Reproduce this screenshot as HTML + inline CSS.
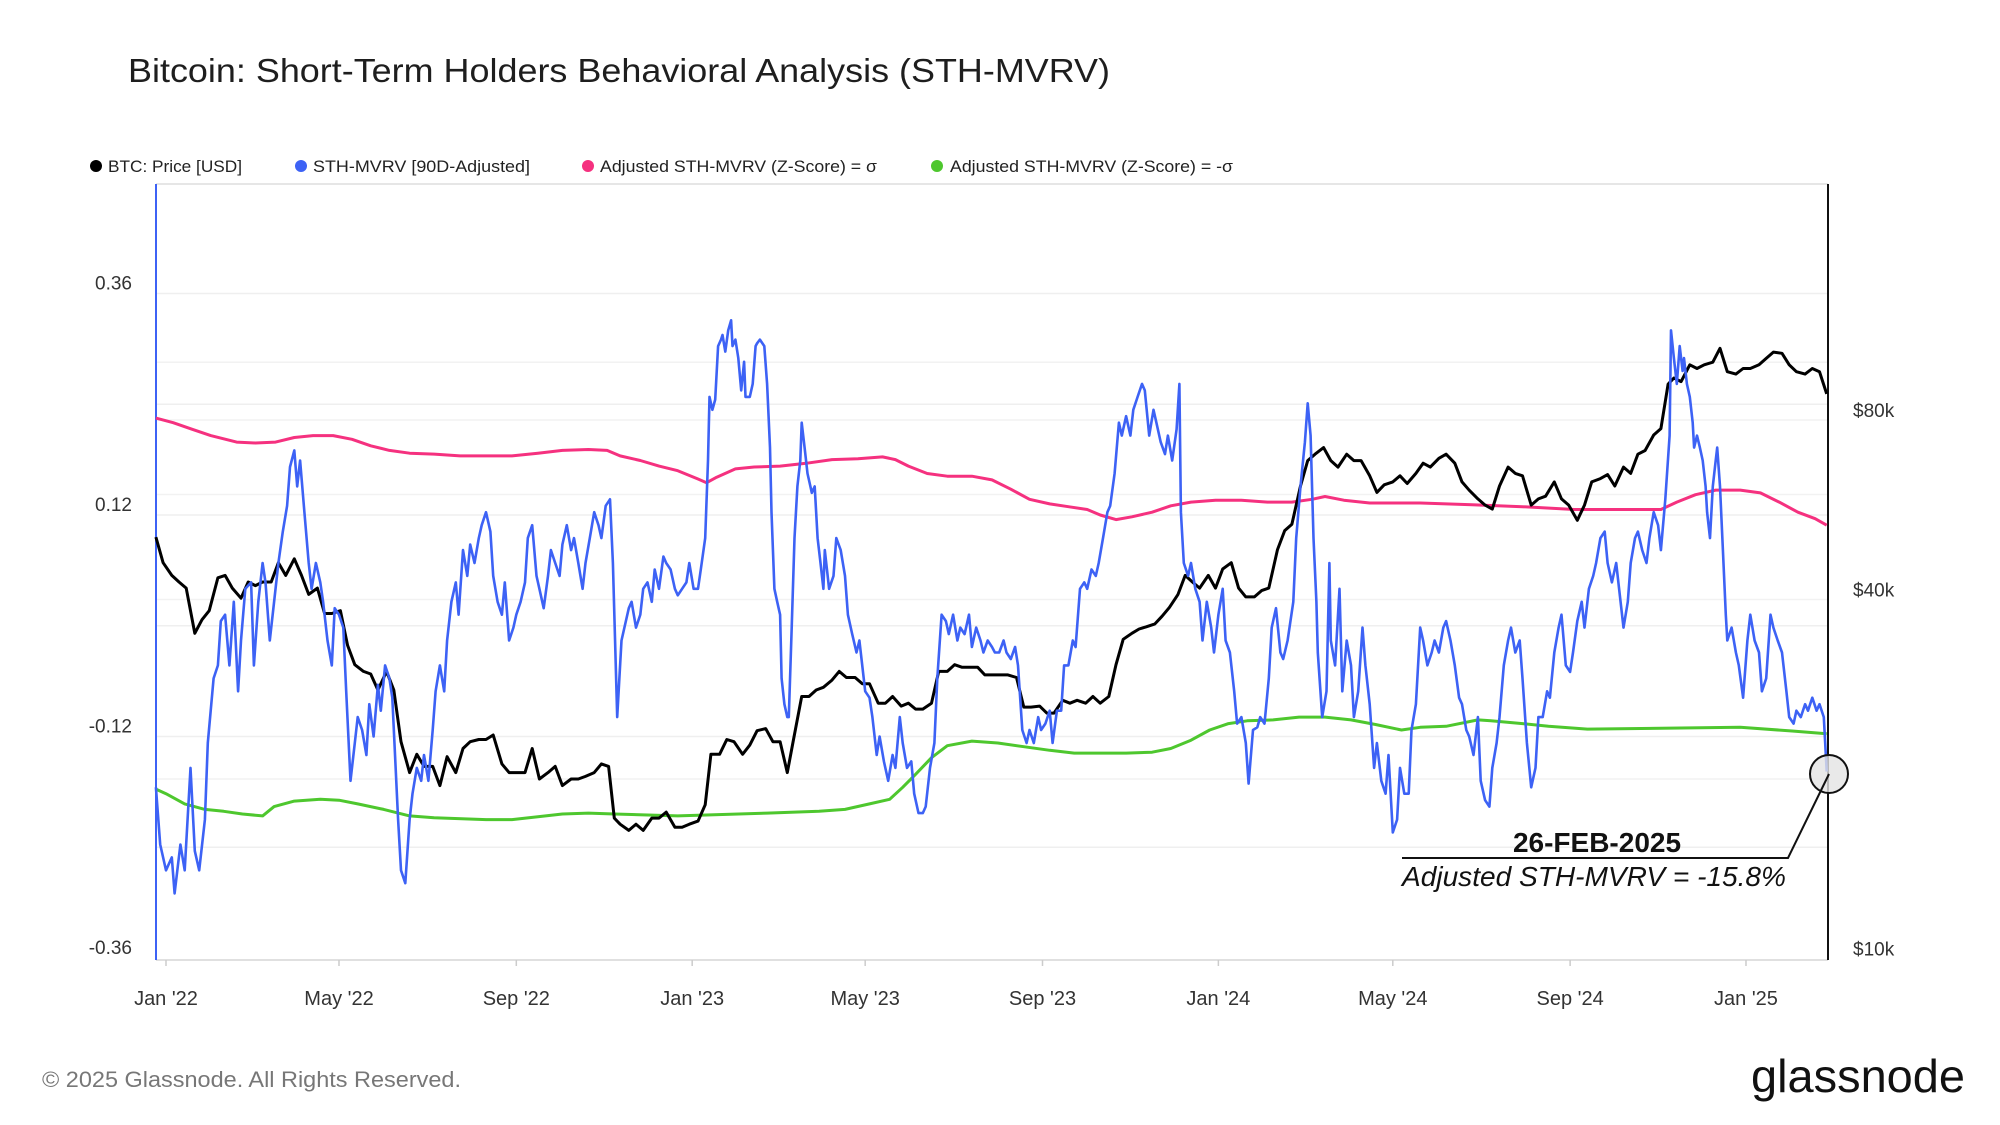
<!DOCTYPE html>
<html>
<head>
<meta charset="utf-8">
<style>
html,body{margin:0;padding:0;background:#fff;}
svg{display:block;font-family:"Liberation Sans",Arial,sans-serif;}
</style>
</head>
<body>
<svg id="chart" width="2000" height="1125" viewBox="0 0 2000 1125" xmlns="http://www.w3.org/2000/svg">
  <rect x="0" y="0" width="2000" height="1125" fill="#ffffff"/>
  <text x="128" y="82" font-size="33" fill="#1e1e1e" textLength="982" lengthAdjust="spacingAndGlyphs">Bitcoin: Short-Term Holders Behavioral Analysis (STH-MVRV)</text>

  <g font-size="17" fill="#222">
    <g>
      <circle cx="96" cy="166" r="6" fill="#000"/>
      <text x="108" y="172" textLength="134" lengthAdjust="spacingAndGlyphs">BTC: Price [USD]</text>
    </g>
    <g>
      <circle cx="301" cy="166" r="6" fill="#3d62f5"/>
      <text x="313" y="172" textLength="217" lengthAdjust="spacingAndGlyphs">STH-MVRV [90D-Adjusted]</text>
    </g>
    <g>
      <circle cx="588" cy="166" r="6" fill="#f5317f"/>
      <text x="600" y="172" textLength="277" lengthAdjust="spacingAndGlyphs">Adjusted STH-MVRV (Z-Score) = σ</text>
    </g>
    <g>
      <circle cx="937" cy="166" r="6" fill="#4ec72e"/>
      <text x="950" y="172" textLength="283" lengthAdjust="spacingAndGlyphs">Adjusted STH-MVRV (Z-Score) = -σ</text>
    </g>
  </g>

  <g id="grid"></g>
  <g id="axes"></g>
  <g id="series"></g>

  <g>
    <circle cx="1829" cy="774" r="19" fill="#e4e4e4" fill-opacity="0.8" stroke="#111" stroke-width="2"/>
    <polyline points="1829,774 1788,858 1402,858" fill="none" stroke="#111" stroke-width="2"/>
    <text x="1597" y="852" font-size="28" font-weight="bold" text-anchor="middle" fill="#111">26-FEB-2025</text>
    <text x="1402" y="886" font-size="28" font-style="italic" fill="#111" textLength="384" lengthAdjust="spacingAndGlyphs">Adjusted STH-MVRV = -15.8%</text>
  </g>

  <text x="42" y="1087" font-size="22" fill="#777" textLength="419" lengthAdjust="spacingAndGlyphs">© 2025 Glassnode. All Rights Reserved.</text>
  <text x="1751" y="1092" font-size="46" fill="#111" textLength="214" lengthAdjust="spacingAndGlyphs">glassnode</text>
</svg>
<script>
// ---- data (days since 2022-01-01) ----
const xTickLabels = ["Jan '22","May '22","Sep '22","Jan '23","May '23","Sep '23","Jan '24","May '24","Sep '24","Jan '25"];
const xTickDays = [0,120,243,365,485,608,730,851,974,1096];
const leftTickLabels = ["0.36","0.12","-0.12","-0.36"];
const leftTickValues = [0.36,0.12,-0.12,-0.36];
const rightTickLabels = ["$80k","$40k","$10k"];
const rightTickValues = [80,40,10];
const rightGridValues = [100,80,60,40,20,10];

const mvrvDays = [-7,-4,0,4,6,10,13,17,20,23,27,29,33,36,38,41,44,47,50,52,55,59,61,64,67,69,72,75,78,81,84,86,89,91,93,96,99,101,104,107,109,112,115,117,120,123,125,128,131,133,136,139,141,144,147,149,152,155,157,161,163,166,169,171,174,177,179,182,185,187,190,193,195,198,201,203,206,209,211,214,217,219,222,225,227,230,233,235,238,241,243,246,249,251,254,257,259,262,265,267,270,273,275,278,281,283,286,289,291,294,297,300,302,305,308,310,313,316,318,321,323,326,329,331,334,337,339,342,345,347,350,353,355,358,361,363,366,369,371,374,376,377,379,381,383,385,386,388,390,392,393,395,397,399,401,402,405,407,409,410,412,415,417,419,420,422,424,426,427,429,431,432,434,436,438,440,441,443,445,447,448,450,452,454,456,457,460,463,465,468,471,473,476,479,481,485,488,490,493,495,498,501,504,506,509,511,514,517,519,522,525,527,530,533,535,538,541,543,546,549,551,554,557,559,562,565,567,570,573,575,578,581,583,586,589,591,594,597,599,602,605,607,610,613,615,618,621,623,626,629,631,634,637,639,642,645,647,650,653,655,658,661,663,666,669,671,674,677,679,682,685,687,690,693,695,698,701,703,704,706,709,711,714,717,719,722,725,727,730,733,735,738,741,743,746,749,751,754,757,759,762,765,767,770,773,775,778,782,784,787,790,792,794,796,798,799,802,805,807,808,811,814,816,819,822,824,827,830,832,835,838,840,843,846,848,851,854,856,859,862,864,867,870,872,875,878,880,883,886,888,891,894,897,899,902,904,907,910,912,915,918,920,923,925,928,931,933,936,939,941,944,947,950,952,955,958,960,963,966,968,971,974,976,979,982,984,987,990,992,995,998,1000,1003,1006,1008,1011,1014,1016,1019,1021,1024,1027,1029,1032,1035,1037,1040,1043,1044,1046,1048,1050,1052,1053,1055,1057,1059,1060,1062,1064,1066,1068,1069,1071,1073,1075,1076,1078,1080,1082,1083,1086,1089,1091,1094,1097,1099,1102,1105,1107,1110,1113,1115,1118,1121,1124,1126,1129,1131,1134,1137,1139,1142,1145,1147,1150,1152];
const mvrvValues = [-0.175,-0.237,-0.265,-0.251,-0.290,-0.237,-0.265,-0.154,-0.244,-0.265,-0.210,-0.127,-0.057,-0.043,0.005,0.012,-0.043,0.026,-0.071,-0.016,0.040,0.047,-0.043,0.026,0.068,0.047,-0.016,0.026,0.068,0.102,0.130,0.172,0.190,0.151,0.179,0.123,0.068,0.040,0.068,0.047,0.026,-0.016,-0.043,0.019,0.012,-0.002,-0.071,-0.168,-0.127,-0.099,-0.113,-0.140,-0.085,-0.120,-0.064,-0.092,-0.043,-0.057,-0.078,-0.210,-0.265,-0.279,-0.210,-0.182,-0.154,-0.168,-0.140,-0.168,-0.113,-0.071,-0.043,-0.071,-0.016,0.026,0.047,0.012,0.082,0.054,0.088,0.068,0.095,0.109,0.123,0.102,0.054,0.026,0.012,0.047,-0.016,-0.002,0.012,0.026,0.047,0.095,0.109,0.054,0.040,0.019,0.054,0.082,0.068,0.054,0.088,0.109,0.082,0.095,0.068,0.040,0.068,0.095,0.123,0.109,0.095,0.130,0.137,0.068,-0.099,-0.016,-0.002,0.019,0.026,-0.002,0.012,0.040,0.047,0.026,0.061,0.040,0.075,0.068,0.061,0.040,0.033,0.040,0.047,0.068,0.040,0.040,0.061,0.095,0.179,0.248,0.234,0.245,0.303,0.310,0.315,0.297,0.320,0.331,0.303,0.310,0.290,0.255,0.286,0.248,0.248,0.262,0.303,0.306,0.310,0.303,0.262,0.193,0.123,0.040,0.026,0.012,-0.057,-0.085,-0.099,-0.099,-0.002,0.095,0.151,0.179,0.220,0.193,0.165,0.151,0.144,0.151,0.095,0.068,0.040,0.082,0.040,0.054,0.095,0.082,0.054,0.012,-0.009,-0.029,-0.016,-0.071,-0.078,-0.099,-0.140,-0.120,-0.147,-0.168,-0.140,-0.154,-0.099,-0.127,-0.154,-0.147,-0.182,-0.203,-0.203,-0.196,-0.154,-0.127,-0.057,0.012,0.005,-0.009,0.012,-0.016,-0.002,-0.009,0.012,-0.023,-0.002,-0.016,-0.029,-0.016,-0.023,-0.029,-0.029,-0.016,-0.029,-0.036,-0.023,-0.043,-0.113,-0.127,-0.113,-0.127,-0.099,-0.113,-0.106,-0.092,-0.127,-0.092,-0.092,-0.043,-0.043,-0.016,-0.023,0.040,0.047,0.040,0.061,0.054,0.068,0.095,0.123,0.130,0.165,0.220,0.206,0.227,0.206,0.234,0.248,0.262,0.255,0.206,0.234,0.220,0.199,0.186,0.206,0.179,0.213,0.262,0.123,0.068,0.054,0.068,0.040,0.026,-0.016,0.026,-0.002,-0.029,0.012,0.040,-0.016,-0.029,-0.071,-0.106,-0.099,-0.127,-0.171,-0.113,-0.110,-0.099,-0.106,-0.057,-0.002,0.019,-0.029,-0.036,-0.016,0.026,0.095,0.151,0.199,0.241,0.206,0.095,0.026,-0.029,-0.099,-0.071,0.068,-0.016,-0.043,0.040,-0.071,-0.016,-0.043,-0.099,-0.071,-0.002,-0.043,-0.085,-0.154,-0.127,-0.168,-0.182,-0.140,-0.224,-0.210,-0.154,-0.182,-0.182,-0.113,-0.085,-0.002,-0.016,-0.043,-0.029,-0.016,-0.029,-0.002,0.005,-0.016,-0.043,-0.078,-0.085,-0.113,-0.120,-0.140,-0.099,-0.168,-0.189,-0.196,-0.154,-0.127,-0.099,-0.043,-0.016,-0.002,-0.029,-0.016,-0.057,-0.127,-0.175,-0.154,-0.099,-0.099,-0.071,-0.078,-0.029,-0.002,0.012,-0.043,-0.050,-0.029,0.005,0.026,-0.002,0.040,0.054,0.068,0.095,0.102,0.068,0.047,0.068,0.040,-0.002,0.026,0.068,0.095,0.102,0.082,0.068,0.095,0.123,0.109,0.082,0.137,0.206,0.320,0.290,0.262,0.303,0.276,0.290,0.262,0.248,0.220,0.193,0.206,0.193,0.179,0.151,0.123,0.095,0.151,0.179,0.193,0.151,0.082,0.012,-0.016,-0.002,-0.029,-0.043,-0.078,-0.016,0.012,-0.016,-0.029,-0.071,-0.057,0.012,-0.002,-0.016,-0.029,-0.071,-0.099,-0.106,-0.092,-0.099,-0.085,-0.092,-0.078,-0.092,-0.085,-0.099,-0.158];

const priceDays = [-7,-2,4,9,14,20,25,30,36,41,46,52,57,62,67,73,78,83,89,94,99,105,110,115,121,126,131,137,142,147,153,158,163,169,174,179,185,190,195,201,206,211,217,222,227,233,238,243,249,254,259,265,270,275,281,286,291,297,302,307,311,315,321,326,331,337,342,347,353,358,363,369,374,378,384,389,394,400,405,410,416,421,426,431,435,441,446,451,456,462,467,472,478,483,488,494,499,504,510,515,520,525,531,536,542,547,552,558,563,568,574,579,584,590,595,600,606,611,616,622,627,632,638,643,648,654,659,664,670,675,680,686,691,696,702,707,712,717,723,728,733,739,744,749,755,760,765,771,776,781,787,792,797,803,808,813,819,824,829,835,840,845,851,856,861,867,872,877,883,888,894,899,904,910,915,920,925,931,936,941,947,952,957,963,968,973,979,984,989,995,1000,1005,1011,1016,1021,1026,1032,1037,1042,1046,1051,1057,1062,1067,1073,1078,1083,1089,1094,1099,1105,1110,1115,1121,1126,1131,1137,1142,1147,1152];
const priceK = [50.9,46.1,43.9,42.8,41.8,35.1,37.0,38.3,43.5,43.9,41.8,40.2,42.8,42.2,42.8,42.8,46.1,43.9,46.8,43.9,40.8,41.8,37.9,37.9,38.3,33.5,31.1,30.3,30.0,28.2,30.3,28.2,23.1,20.5,22.0,21.0,21.0,19.5,21.8,20.5,22.5,23.1,23.3,23.3,23.7,21.2,20.5,20.5,20.5,22.5,20.0,20.5,21.0,19.5,20.0,20.0,20.2,20.5,21.2,21.0,17.2,16.8,16.4,16.8,16.4,17.2,17.2,17.6,16.6,16.6,16.8,17.0,18.1,22.0,22.0,23.3,23.1,22.0,22.8,24.1,24.3,23.1,23.1,20.5,23.1,27.5,27.5,28.2,28.5,29.3,30.3,29.6,29.6,28.9,28.9,26.8,26.8,27.5,26.5,26.8,26.2,26.2,26.8,30.3,30.3,31.1,30.8,30.8,30.8,29.9,29.9,29.9,29.9,29.6,26.4,26.4,26.5,25.8,25.8,27.1,26.8,27.1,26.8,27.5,26.8,27.5,31.1,34.3,35.1,35.7,36.0,36.4,37.5,38.8,40.8,43.9,42.8,41.8,43.9,41.8,45.0,46.1,41.8,40.4,40.4,41.4,41.8,48.5,52.2,53.5,62.0,68.4,70.1,71.9,68.4,66.7,70.1,68.4,68.4,64.5,60.5,62.3,63.0,64.5,62.6,65.1,67.7,66.7,69.0,70.1,67.7,63.0,61.0,59.0,57.6,56.7,62.0,66.7,65.1,64.5,57.6,59.0,59.6,63.0,59.0,57.6,54.3,57.6,63.0,63.8,64.8,62.0,66.7,65.1,70.1,71.1,75.5,77.4,91.9,94.1,92.8,99.0,97.6,99.0,100.0,105.5,96.4,95.5,97.6,97.6,99.0,101.5,104.0,103.5,99.0,96.4,95.5,97.6,96.4,88.5];

const upperDays = [-7,5,18,31,49,62,76,89,102,116,129,142,155,169,186,204,222,240,258,275,293,306,315,329,342,355,369,375,382,395,408,426,444,462,480,497,506,515,528,542,559,573,586,599,613,626,639,648,659,670,684,697,711,728,746,764,781,795,804,817,835,870,906,941,977,1021,1037,1048,1061,1075,1092,1106,1119,1132,1144,1152];
const upperValues = [0.225,0.220,0.213,0.206,0.199,0.198,0.199,0.204,0.206,0.206,0.202,0.195,0.190,0.187,0.186,0.184,0.184,0.184,0.187,0.190,0.191,0.190,0.184,0.179,0.173,0.168,0.159,0.155,0.161,0.170,0.172,0.173,0.176,0.180,0.181,0.183,0.180,0.173,0.165,0.162,0.162,0.158,0.148,0.137,0.132,0.129,0.126,0.120,0.115,0.118,0.123,0.130,0.134,0.136,0.136,0.134,0.134,0.137,0.140,0.136,0.133,0.133,0.131,0.129,0.126,0.126,0.126,0.134,0.142,0.147,0.147,0.144,0.134,0.123,0.116,0.109];

const lowerDays = [-7,0,13,27,40,53,67,75,89,107,120,133,151,169,186,222,240,258,275,293,311,355,417,453,471,488,502,511,520,531,542,559,577,595,613,630,666,684,697,711,724,737,750,768,786,804,822,839,857,870,888,910,919,941,959,986,1092,1128,1152];
const lowerValues = [-0.177,-0.182,-0.193,-0.199,-0.201,-0.204,-0.206,-0.196,-0.190,-0.188,-0.189,-0.193,-0.199,-0.206,-0.208,-0.210,-0.210,-0.207,-0.204,-0.203,-0.204,-0.206,-0.203,-0.201,-0.199,-0.193,-0.188,-0.175,-0.161,-0.143,-0.130,-0.125,-0.127,-0.131,-0.135,-0.138,-0.138,-0.137,-0.133,-0.124,-0.113,-0.106,-0.103,-0.102,-0.099,-0.099,-0.102,-0.107,-0.113,-0.110,-0.109,-0.102,-0.103,-0.106,-0.109,-0.112,-0.110,-0.114,-0.117];

// ---- axes ----
const PLOT = {left:156, right:1828, top:184, bottom:960};
function xScale(day){ return 166 + day * 1.4416; }
function yLeft(v){ return 515 - (v - 0.12) / 0.24 * 221.5; }
function yRight(k){ return 420 - Math.log2(k / 80) * 179.5; }

const NS = "http://www.w3.org/2000/svg";
function mk(tag, attrs, parent){
  const el = document.createElementNS(NS, tag);
  for (const k in attrs) el.setAttribute(k, attrs[k]);
  parent.appendChild(el);
  return el;
}
const grid = document.getElementById('grid');
const axes = document.getElementById('axes');
const series = document.getElementById('series');

// gridlines
[0.36,0.24,0.12,0,-0.12,-0.24].forEach(v=>{
  const y = yLeft(v);
  const l = mk('line',{x1:PLOT.left,x2:PLOT.right,y1:y,y2:y,stroke:'#efefef','stroke-width':1.5},grid);
  
  
});
rightGridValues.forEach(k=>{
  const y = yRight(k);
  if (y >= PLOT.bottom - 3) return;
  const l = mk('line',{x1:PLOT.left,x2:PLOT.right,y1:y,y2:y,stroke:'#f2f2f2','stroke-width':1.5},grid);
  
  
});
const topLine = mk('line',{x1:PLOT.left,x2:PLOT.right,y1:PLOT.top,y2:PLOT.top,stroke:'#e6e6e6','stroke-width':2},axes);


const bottomLine = mk('line',{x1:PLOT.left,x2:PLOT.right,y1:PLOT.bottom,y2:PLOT.bottom,stroke:'#e0e0e0','stroke-width':2},axes);


const leftAxis = mk('line',{x1:PLOT.left,x2:PLOT.left,y1:PLOT.top,y2:PLOT.bottom,stroke:'#3d62f5','stroke-width':2},axes);


const rightAxis = mk('line',{x1:PLOT.right,x2:PLOT.right,y1:PLOT.top,y2:PLOT.bottom,stroke:'#111','stroke-width':2},axes);



leftTickLabels.forEach((lab,i)=>{
  const t = mk('text',{x:132,y:yLeft(leftTickValues[i]) - 4,'font-size':19,fill:'#333','text-anchor':'end'},axes);
  t.textContent = lab;
  
  
});
rightTickLabels.forEach((lab,i)=>{
  const t = mk('text',{x:1853,y:yRight(rightTickValues[i]) - 3,'font-size':19,fill:'#333'},axes);
  t.textContent = lab;
  
  
});
xTickLabels.forEach((lab,i)=>{
  const x = xScale(xTickDays[i]);
  const tk = mk('line',{x1:x,x2:x,y1:PLOT.bottom,y2:PLOT.bottom+6,stroke:'#ccc','stroke-width':1.5},axes);
  
  
  const t = mk('text',{x:x,y:1005,'font-size':20,fill:'#333','text-anchor':'middle'},axes);
  t.textContent = lab;
  
  
});

function pathFrom(days, vals, yf){
  return days.map((d,i)=>(i?'L':'M') + xScale(d).toFixed(1) + ',' + yf(vals[i]).toFixed(1)).join(' ');
}
const pUpper = mk('path',{d:pathFrom(upperDays,upperValues,yLeft),fill:'none',stroke:'#f5317f','stroke-width':3,'stroke-linejoin':'round'},series);


const pLower = mk('path',{d:pathFrom(lowerDays,lowerValues,yLeft),fill:'none',stroke:'#4ec72e','stroke-width':3,'stroke-linejoin':'round'},series);


const pPrice = mk('path',{d:pathFrom(priceDays,priceK,yRight),fill:'none',stroke:'#000','stroke-width':3,'stroke-linejoin':'round'},series);


const pMvrv = mk('path',{d:pathFrom(mvrvDays,mvrvValues,yLeft),fill:'none',stroke:'#3d62f5','stroke-width':2.6,'stroke-linejoin':'round'},series);


</script>
</body>
</html>
